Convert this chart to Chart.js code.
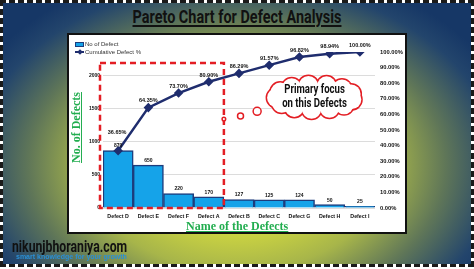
<!DOCTYPE html>
<html lang="en">
<head>
<meta charset="UTF-8">
<title>Pareto Chart for Defect Analysis</title>
<script src="https://cdn.jsdelivr.net/npm/chart.js"></script>
<style>
  html, body { margin: 0; padding: 0; background: #fff; }
  body { width: 474px; height: 269px; position: relative; overflow: hidden; font-family: 'Liberation Sans', Arial, sans-serif; }
  #frame {
    position: absolute; left: 0; top: 0; width: 474px; height: 267px; box-sizing: border-box;
    border: 3px dashed #1a1a1a;
    background: radial-gradient(ellipse 62% 78% at 50% 62%, #e3e43c 0%, #d2d940 30%, #a7b54a 52%, #5f7658 72%, #23456c 90%, #163766 100%);
    background-clip: padding-box;
  }
  #title {
    position: absolute; left: 0; width: 474px; top: 5px; text-align: center;
    font-family: Roboto, 'Liberation Sans', sans-serif;
    font-weight: bold; font-size: 19px; color: #111; text-decoration: underline; text-decoration-thickness: 2px; text-underline-offset: 2px;
    transform: scaleX(0.76); transform-origin: center;
  }
  #box {
    position: absolute; left: 67px; top: 33px; width: 340px; height: 201px; box-sizing: border-box;
    background: #fff; border: 2px solid #111;
  }
  #chart { position: absolute; left: 0; top: 0; }
  .axis-title {
    position: absolute; color: #22ad4f; font-family: 'Liberation Serif', 'Times New Roman', serif;
    font-weight: bold; font-size: 12px; text-decoration: underline; white-space: nowrap;
  }
  #ytitle { transform: rotate(-90deg); transform-origin: center; }
  #legend { position: absolute; left: 6px; top: 5px; font-size: 6px; color: #333; line-height: 8px; }
  #legend .row { display: flex; align-items: center; }
  .sw-bar { width: 7px; height: 3px; background: #15a3e9; border: 1px solid #1d3c7c; margin-right: 1px; }
  .sw-line { width: 9px; height: 2px; background: #1f2d6e; margin-right: 1px; position: relative; }
  .sw-line::after { content: ''; position: absolute; left: 2.5px; top: -1.5px; width: 4px; height: 4px; background: #1f2d6e; transform: rotate(45deg); }
  #site { position: absolute; left: 12px; top: 236px; font-family: Roboto, 'Liberation Sans', sans-serif; font-weight: bold; font-size: 17px; color: #111; transform: scaleX(0.72); transform-origin: left center; }
  #tag { position: absolute; left: 16px; top: 253px; font-size: 7px; color: #2a8fd6; font-weight: bold; }
</style>
</head>
<body>
<div id="frame"></div>
<div id="title">Pareto Chart for Defect Analysis</div>
<div id="box">
  <canvas id="chart" width="336" height="197"></canvas>
  <div id="legend">
    <div class="row"><span class="sw-bar"></span>No of Defect</div>
    <div class="row"><span class="sw-line"></span>Cumulative Defect %</div>
  </div>
</div>
<div class="axis-title" id="ytitle" style="left:41px; top:120px;">No. of Defects</div>
<div class="axis-title" id="xtitle" style="left:186px; top:219px;">Name of the Defects</div>
<div id="site">nikunjbhoraniya.com</div>
<div id="tag">smart knowledge for your growth</div>

<script>
  // data
  const defects = ['Defect D', 'Defect E', 'Defect F', 'Defect A', 'Defect B', 'Defect C', 'Defect G', 'Defect H', 'Defect I'];
  const counts = [870, 650, 220, 170, 127, 125, 124, 50, 25];
  const cumulativePct = [36.65, 64.35, 73.70, 80.90, 86.29, 91.57, 96.82, 98.94, 100.00];
  const countTicks = [0, 500, 1000, 1500, 2000];
  const totalDefects = counts.reduce((a, b) => a + b, 0);

  const TICK_FONT = '"Liberation Sans", Arial, sans-serif';

  // value labels + red focus box + thought cloud
  const extras = {
    id: 'extras',
    afterDatasetsDraw(chart) {
      const ctx = chart.ctx;
      const x = chart.scales.x, y1 = chart.scales.y1;
      const area = chart.chartArea;
      ctx.save();
      ctx.fillStyle = '#111';
      ctx.textAlign = 'center';
      ctx.textBaseline = 'bottom';
      ctx.font = 'bold 5px ' + TICK_FONT;
      chart.getDatasetMeta(1).data.forEach((bar, i) => {
        ctx.fillText(counts[i], bar.x, bar.y - 2);
      });
      ctx.font = 'bold 5.5px ' + TICK_FONT;
      chart.getDatasetMeta(0).data.forEach((pt, i) => {
        const off = i === 0 ? 16 : 4;
        ctx.fillText(cumulativePct[i].toFixed(2) + '%', pt.x - (i === 0 ? 1 : 0), pt.y - off);
      });

      // red dashed box around the vital few
      const boxRight = (x.getPixelForValue(3) + x.getPixelForValue(4)) / 2;
      const boxTop = y1.getPixelForValue(93);
      ctx.strokeStyle = '#e31e24';
      ctx.lineWidth = 2.5;
      ctx.setLineDash([6, 4]);
      ctx.strokeRect(area.left - 3, boxTop, boxRight - area.left + 3, area.bottom - boxTop);
      ctx.setLineDash([]);

      // thought cloud
      const step = x.getPixelForValue(1) - x.getPixelForValue(0);
      const cx = x.getPixelForValue(6) + 0.5 * step;
      const cy = y1.getPixelForValue(71);
      const bumps = [];
      const n = 13;
      for (let k = 0; k < n; k++) {
        const a = (2 * Math.PI * k) / n + 0.2;
        bumps.push([cx + 38 * Math.cos(a), cy + 12 * Math.sin(a), 9.5]);
      }
      ctx.strokeStyle = '#e31e24';
      ctx.lineWidth = 3;
      bumps.forEach(b => { ctx.beginPath(); ctx.arc(b[0], b[1], b[2], 0, 2 * Math.PI); ctx.stroke(); });
      ctx.fillStyle = '#fff';
      bumps.forEach(b => { ctx.beginPath(); ctx.arc(b[0], b[1], b[2], 0, 2 * Math.PI); ctx.fill(); });
      ctx.beginPath(); ctx.ellipse(cx, cy, 40, 14, 0, 0, 2 * Math.PI); ctx.fill();

      // little trail circles
      ctx.lineWidth = 1.5;
      [[3.5, 57, 1.8], [4.05, 59, 3], [4.6, 62, 4]].forEach(c => {
        const px = x.getPixelForValue(0) + c[0] * step;
        ctx.beginPath(); ctx.arc(px, y1.getPixelForValue(c[1]), c[2], 0, 2 * Math.PI);
        ctx.fillStyle = '#fff'; ctx.fill(); ctx.stroke();
      });

      ctx.fillStyle = '#111';
      ctx.textBaseline = 'middle';
      ctx.font = 'bold 12px Roboto, sans-serif';
      ctx.translate(cx, cy);
      ctx.scale(0.8, 1);
      ctx.fillText('Primary focus', 0, -7);
      ctx.fillText('on this Defects', 0, 7);
      ctx.restore();
    }
  };

  new Chart(document.getElementById('chart'), {
    data: {
      labels: defects,
      datasets: [
        {
          type: 'line',
          label: 'Cumulative Defect %',
          data: cumulativePct,
          yAxisID: 'y1',
          borderColor: '#1f2d6e',
          backgroundColor: '#1f2d6e',
          borderWidth: 2.5,
          pointStyle: 'rectRot',
          pointRadius: 3,
          tension: 0,
          order: 0
        },
        {
          type: 'bar',
          label: 'No of Defect',
          data: counts,
          yAxisID: 'y',
          backgroundColor: '#15a3e9',
          borderColor: '#1d3c7c',
          borderWidth: 1.5,
          barPercentage: 1,
          categoryPercentage: 1,
          order: 1
        }
      ]
    },
    options: {
      responsive: false,
      animation: false,
      layout: { padding: { top: 17, left: 0, right: 0, bottom: 0 } },
      plugins: { legend: { display: false }, tooltip: { enabled: false } },
      scales: {
        x: {
          grid: { display: false, drawTicks: false },
          border: { display: false },
          ticks: { color: '#111', font: { size: 5.3, weight: 'bold', family: TICK_FONT }, padding: 5, maxRotation: 0, autoSkip: false },
          afterFit: s => { s.height = 24; }
        },
        y: {
          position: 'left',
          min: 0,
          max: totalDefects,
          afterBuildTicks: s => { s.ticks = countTicks.map(v => ({ value: v })); },
          grid: { color: '#dcdcdc', lineWidth: 1, drawTicks: false },
          border: { display: false },
          ticks: { color: '#111', font: { size: 5, weight: 'bold', family: TICK_FONT }, padding: 3, callback: v => String(v) },
          afterFit: s => { s.width = 34; }
        },
        y1: {
          position: 'right',
          min: 0,
          max: 100,
          grid: { display: false, drawTicks: false },
          border: { display: false },
          ticks: { stepSize: 10, color: '#111', padding: 5, font: { size: 5.8, weight: 'bold', family: TICK_FONT }, callback: v => v.toFixed(2) + '%' },
          afterFit: s => { s.width = 30; }
        }
      }
    },
    plugins: [extras]
  });
</script>
</body>
</html>
